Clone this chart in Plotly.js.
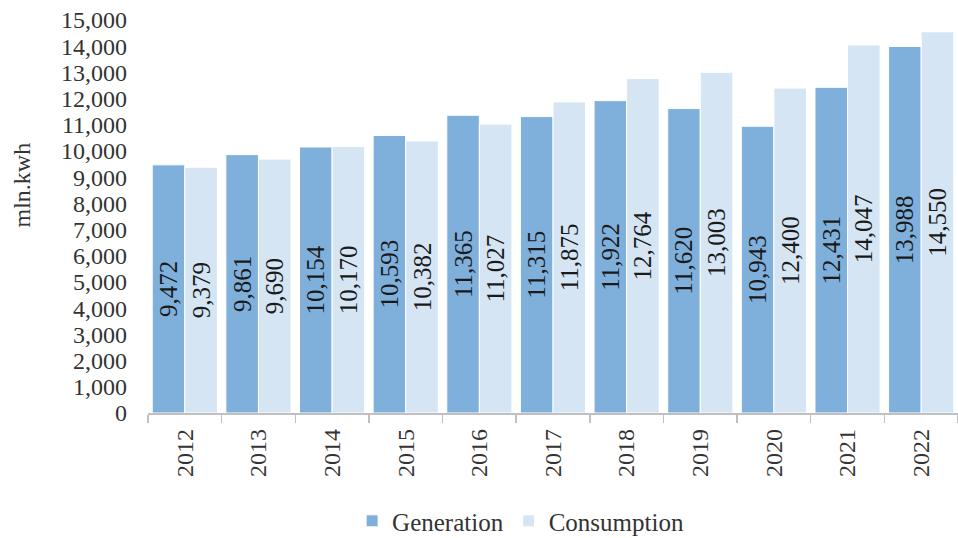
<!DOCTYPE html>
<html><head><meta charset="utf-8">
<script src="https://cdn.plot.ly/plotly-3.0.1.min.js"></script>
<style>html,body{margin:0;padding:0;background:#fff}#c{width:958px;height:538px}</style>
</head><body><div id="c"></div>
<script>
const years = ['2012','2013','2014','2015','2016','2017','2018','2019','2020','2021','2022'];
const generation = [9472,9861,10154,10593,11365,11315,11922,11620,10943,12431,13988];
const consumption = [9379,9690,10170,10382,11027,11875,12764,13003,12400,14047,14550];
const yTicks = [0,1000,2000,3000,4000,5000,6000,7000,8000,9000,10000,11000,12000,13000,14000,15000];
const fmt = v => v.toLocaleString('en-US');
const F = 'Liberation Serif, Times New Roman, serif';
const common = {type:'bar', textposition:'inside', insidetextanchor:'middle', textangle:-90,
  textfont:{family:F,size:25,color:'#1a1a1a'}, constraintext:'none', hoverinfo:'skip'};
const data = [
  Object.assign({}, common, {name:'Generation', x:years, y:generation, text:generation.map(fmt),
    marker:{color:'#7fb0dc', line:{color:'#ffffff', width:1}}}),
  Object.assign({}, common, {name:'Consumption', x:years, y:consumption, text:consumption.map(fmt),
    marker:{color:'#d5e5f4', line:{color:'#ffffff', width:1}}})
];
const layout = {
  width:958, height:538,
  margin:{l:148, r:0, t:20, b:125, autoexpand:false},
  barmode:'group', bargap:0.115, bargroupgap:0,
  font:{family:F, size:24, color:'#333'},
  paper_bgcolor:'#fff', plot_bgcolor:'#fff',
  showlegend:true,
  legend:{orientation:'h', x:0.46, xanchor:'center', y:-0.275, yanchor:'middle',
    font:{family:F,size:25,color:'#333'}, itemwidth:30, tracegroupgap:0},
  xaxis:{type:'category', tickangle:-90, showline:true, linecolor:'#c0c0c0', linewidth:1.5,
    ticks:'outside', tickson:'boundaries', ticklen:8, tickcolor:'#c0c0c0', tickwidth:1.5,
    ticklabelstandoff:5, automargin:false,
    tickfont:{family:F,size:24,color:'#333'}, showgrid:false, zeroline:false},
  yaxis:{range:[0,15000], tickvals:yTicks, ticktext:yTicks.map(fmt), showgrid:false, zeroline:false,
    showline:false, ticks:'', ticklabelstandoff:20, automargin:false, tickfont:{family:F,size:24,color:'#333'}},
  annotations:[{text:'mln.kwh', xref:'paper', yref:'paper', x:-0.155, y:0.58, showarrow:false,
    textangle:-90, font:{family:F,size:24,color:'#333'}, xanchor:'center', yanchor:'middle'}]
};
Plotly.newPlot('c', data, layout, {displayModeBar:false, staticPlot:true});
</script></body></html>
